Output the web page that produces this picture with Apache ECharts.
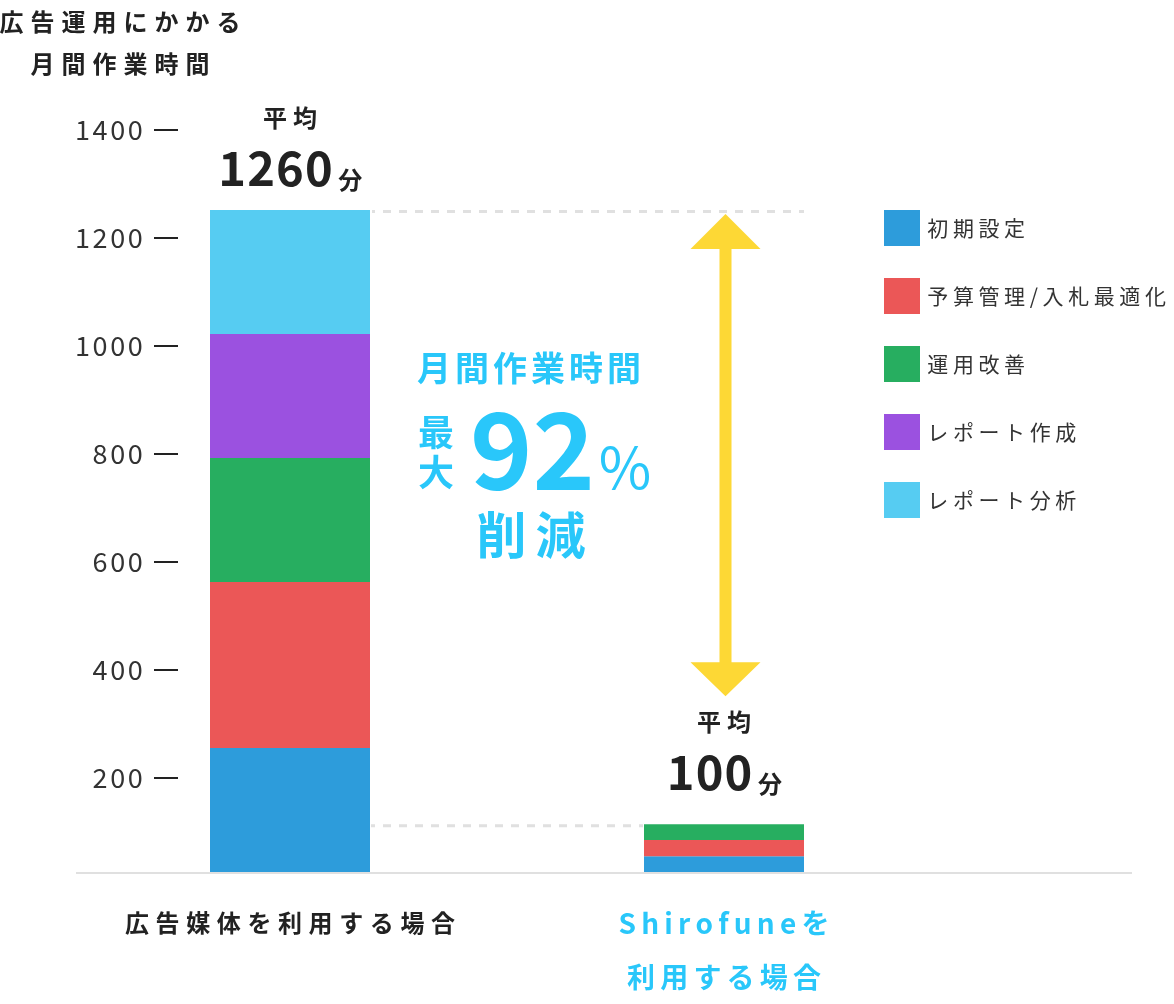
<!DOCTYPE html>
<html><head><meta charset="utf-8">
<script src="https://cdn.jsdelivr.net/npm/echarts@6/dist/echarts.min.js"></script>
<style>html,body{margin:0;padding:0;background:#fff}#chart{width:1174px;height:1004px}</style>
</head><body><div id="chart"></div>
<script>
// ---- data ----
const categories = ['広告媒体を利用する場合', 'Shirofuneを\n利用する場合'];
const seriesNames = ['初期設定', '予算管理/入札最適化', '運用改善', 'レポート作成', 'レポート分析'];
const initialSetup = [236, 30];
const budgetBidding = [316, 31];
const operationImprovement = [236, 30];
const reportCreation = [236, 0];
const reportAnalysis = [236, 0];
const averageLabels = ['1260', '100'];
const yTickValues = [200, 400, 600, 800, 1000, 1200, 1400];
const axisTitle = ['広告運用にかかる', '月間作業時間'];
const headlineTop = '月間作業時間';
const headlinePrefix = '最大';
const headlineValue = '92';
const headlineUnit = '%';
const headlineBottom = '削減';

const colors = ['#2D9CDB', '#EB5757', '#27AE60', '#9B51E0', '#56CCF2'];
const CYAN = '#29C7FA';
const DARK = '#222222';
const FONT = '"Noto Sans CJK JP", "Noto Sans", sans-serif';

function sp(str, key) {
  return String(str).split('\n').map(function (line) {
    return Array.from(line).map(function (ch) { return '{' + key + '|' + ch + '}'; }).join('');
  }).join('\n');
}

const seriesData = [initialSetup, budgetBidding, operationImprovement, reportCreation, reportAnalysis];
const totals = categories.map(function (_, i) {
  return seriesData.reduce(function (s, arr) { return s + arr[i]; }, 0);
});

const chart = echarts.init(document.getElementById('chart'), null, { renderer: 'canvas' });

const option = {
  animation: false,
  backgroundColor: '#fff',
  textStyle: { fontFamily: FONT },
  grid: [
    { left: 178, top: 130, width: 10, height: 648 },
    { left: 73, width: 868, top: 210, bottom: 132 }
  ],
  xAxis: [
    { gridIndex: 0, type: 'value', show: false },
    {
      gridIndex: 1, type: 'category', data: categories,
      axisLine: { show: false }, axisTick: { show: false },
      axisLabel: {
        margin: 24,
        interval: 0,
        formatter: function (v, i) { return sp(v, i === 0 ? 'a' : 'b'); },
        rich: {
          a: { fontSize: 24, fontWeight: 'bold', color: DARK, fontFamily: FONT, lineHeight: 54, padding: [0, 3.3, 0, 3.3] },
          b: { fontSize: 28, fontWeight: 'bold', color: CYAN, fontFamily: FONT, lineHeight: 54, padding: [0, 2.6, 0, 2.6] }
        }
      }
    }
  ],
  yAxis: [
    {
      gridIndex: 0, type: 'value',
      min: yTickValues[0], max: yTickValues[yTickValues.length - 1],
      interval: yTickValues[1] - yTickValues[0],
      axisLine: { show: false },
      splitLine: { show: false },
      axisTick: { show: true, length: 24, lineStyle: { color: DARK, width: 2 } },
      axisLabel: {
        margin: 34,
        formatter: function (v) { return sp(v, 't'); },
        rich: { t: { fontSize: 27, color: '#333', fontFamily: FONT, padding: [0, 1.3, 0, 1.3] } }
      }
    },
    { gridIndex: 1, type: 'value', min: 0, max: Math.max.apply(null, totals), show: false }
  ],
  legend: {
    orient: 'vertical', left: 884, top: 210, padding: 0,
    itemWidth: 36, itemHeight: 36, itemGap: 32, icon: 'rect',
    data: seriesNames,
    formatter: function (n) { return sp(n, 'l'); },
    textStyle: { rich: { l: { fontSize: 21, color: '#333', fontFamily: FONT, padding: [0, 2.3, 0, 2.3] } } }
  },
  series: seriesNames.map(function (name, k) {
    return {
      name: name, type: 'bar', stack: 'total',
      xAxisIndex: 1, yAxisIndex: 1,
      barWidth: 160,
      itemStyle: { color: colors[k] },
      data: seriesData[k]
    };
  })
};
chart.setOption(option);

function px(ci, v) { return chart.convertToPixel({ gridIndex: 1 }, [ci, v]); }
const p1 = px(0, totals[0]);
const p2 = px(1, totals[1]);
const base = px(0, 0)[1];
const half = 80;
const c1 = p1[0], top1 = p1[1], c2 = p2[0], top2 = p2[1];

function txt(str, key, x, y, richStyle) {
  const rich = {}; rich[key] = richStyle;
  return {
    type: 'text', silent: true,
    style: { text: sp(str, key), rich: rich, x: x, y: y, align: 'center', verticalAlign: 'middle' }
  };
}

const cx = c2 + 1.5;
const tT = top1 + 4;
const tB = top2 - 128;
const arrowPts = [
  [cx, tT], [cx + 35, tT + 35], [cx + 6, tT + 35], [cx + 6, tB - 34], [cx + 35, tB - 34],
  [cx, tB], [cx - 35, tB - 34], [cx - 6, tB - 34], [cx - 6, tT + 35], [cx - 35, tT + 35]
];

const avgRich = {
  n: { fontSize: 47, fontWeight: 'bold', fill: DARK, fontFamily: FONT, padding: [0, 0.6, 0, 0.6], verticalAlign: 'bottom' },
  u: { fontSize: 24, fontWeight: 'bold', fill: DARK, fontFamily: FONT, lineHeight: 32, verticalAlign: 'bottom', padding: [0, 0, 0, 5] }
};
function avgText(val, x, y) {
  return {
    type: 'text', silent: true,
    style: { text: sp(val, 'n') + '{u|分}', rich: avgRich, x: x, y: y, align: 'center', verticalAlign: 'middle' }
  };
}

const heiStyle = { fontSize: 24, fontWeight: 'bold', fill: DARK, fontFamily: FONT, padding: [0, 3, 0, 3] };
const titleStyle = { fontSize: 24, fontWeight: 'bold', fill: DARK, fontFamily: FONT, padding: [0, 3.5, 0, 3.5] };

chart.setOption({
  graphic: [
    { type: 'line', silent: true, z: 0, shape: { x1: 76, y1: base + 1, x2: 1132, y2: base + 1 }, style: { stroke: '#e0e0e0', lineWidth: 2 } },
    { type: 'line', silent: true, shape: { x1: c1 + half + 2, y1: top1 + 1.5, x2: c2 + half, y2: top1 + 1.5 }, style: { stroke: '#e0e0e0', lineWidth: 3, lineDash: [8, 8], lineDashOffset: 5 } },
    { type: 'line', silent: true, shape: { x1: c1 + half + 1, y1: top2 + 1.5, x2: c2 - half - 1, y2: top2 + 1.5 }, style: { stroke: '#e0e0e0', lineWidth: 3, lineDash: [8, 8], lineDashOffset: 4 } },
    { type: 'polygon', silent: true, shape: { points: arrowPts }, style: { fill: '#FDD835' } },
    // axis title
    txt(axisTitle[0], 'h', 120, 22, titleStyle),
    txt(axisTitle[1], 'h', 120, 63.5, titleStyle),
    // averages
    txt('平均', 'p', c1, top1 - 92, heiStyle),
    avgText(averageLabels[0], c1, top1 - 42),
    txt('平均', 'p', c2, top2 - 102, heiStyle),
    avgText(averageLabels[1], c2, top2 - 52),
    // headline
    txt(headlineTop, 'k', 529, 368, { fontSize: 34, fontWeight: 'bold', fill: CYAN, fontFamily: FONT, padding: [0, 2, 0, 2] }),
    { type: 'text', silent: true, style: { text: headlinePrefix.split('').join('\n'), x: 436, y: 452.5, align: 'center', verticalAlign: 'middle', fontSize: 36, fontWeight: 'bold', fill: CYAN, fontFamily: FONT, lineHeight: 40 } },
    { type: 'text', silent: true, style: { text: headlineValue, x: 532.5, y: 449.5, align: 'center', verticalAlign: 'middle', fontSize: 106, fontWeight: 'bold', fill: CYAN, fontFamily: FONT } },
    { type: 'text', silent: true, style: { text: headlineUnit, x: 625, y: 467, align: 'center', verticalAlign: 'middle', fontSize: 57, fontWeight: 'normal', fill: CYAN, fontFamily: FONT } },
    txt(headlineBottom, 'k2', 531, 535, { fontSize: 50, fontWeight: 'bold', fill: CYAN, fontFamily: FONT, padding: [0, 4.5, 0, 4.5] })
  ]
});
</script></body></html>
